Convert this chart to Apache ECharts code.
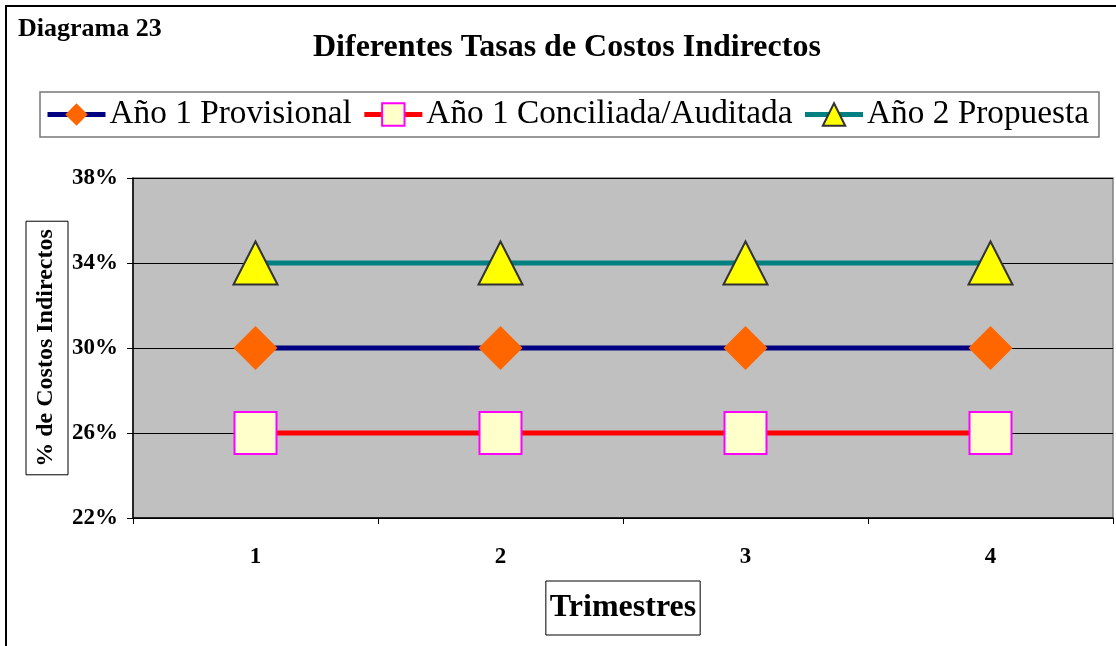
<!DOCTYPE html>
<html><head><meta charset="utf-8">
<script src="https://cdn.jsdelivr.net/npm/echarts@6/dist/echarts.min.js"></script>
<style>html,body{margin:0;padding:0;background:#fff}#c{width:1116px;height:646px}</style>
</head><body><div id="c"></div>
<script>
const categories = ['1', '2', '3', '4'];
const provisional = [30, 30, 30, 30];
const conciliada = [26, 26, 26, 26];
const propuesta = [34, 34, 34, 34];
const seriesNames = ['Año 1 Provisional', 'Año 1 Conciliada/Auditada', 'Año 2 Propuesta'];
const yMin = 22, yMax = 38, yStep = 4;

const serif = '"Liberation Serif", "DejaVu Serif", serif';
const chart = echarts.init(document.getElementById('c'), null, {renderer: 'canvas'});
chart.setOption({
  animation: false,
  backgroundColor: '#ffffff',
  textStyle: {fontFamily: serif, color: '#000'},
  graphic: [
    {type: 'rect', shape: {x: 6, y: 6, width: 1200, height: 700}, style: {fill: 'none', stroke: '#000', lineWidth: 2}, z: 0},
    {type: 'text', left: 18, top: 16, style: {text: 'Diagrama 23', font: 'bold 26px ' + serif, fill: '#000'}}
  ],
  title: {
    text: 'Diferentes Tasas de Costos Indirectos',
    left: 308, top: 27,
    textStyle: {fontFamily: serif, fontWeight: 'bold', fontSize: 32, color: '#000'}
  },
  legend: {
    left: 40, top: 92,
    padding: [6, 10, 6, 5],
    borderColor: '#777', borderWidth: 1.5,
    itemWidth: 58, itemHeight: 28, itemGap: 10,
    lineStyle: {width: 5},
    textStyle: {fontFamily: serif, fontSize: 33.3, color: '#000', padding: [0, 0, 0, -1]},
    data: seriesNames
  },
  grid: {left: 133, top: 178, right: 3, bottom: 128, show: true, backgroundColor: '#C0C0C0', borderColor: '#808080', borderWidth: 1.5},
  xAxis: {
    type: 'category', data: categories, boundaryGap: true,
    name: 'Trimestres', nameLocation: 'middle', nameGap: 63, nameMoveOverlap: false,
    nameTextStyle: {fontFamily: serif, fontWeight: 'bold', fontSize: 32, color: '#000', borderColor: '#000', borderWidth: 1, padding: [11, 4, 11, 4]},
    axisLine: {lineStyle: {color: '#000', width: 1.5}},
    axisTick: {show: true, length: 6, lineStyle: {color: '#000'}},
    axisLabel: {fontFamily: serif, fontWeight: 'bold', fontSize: 23, color: '#000', margin: 28},
    splitLine: {show: false}
  },
  yAxis: {
    type: 'value', min: yMin, max: yMax, interval: yStep,
    name: '% de Costos Indirectos', nameLocation: 'middle', nameRotate: 90, nameGap: 65, nameMoveOverlap: false,
    nameTextStyle: {fontFamily: serif, fontWeight: 'bold', fontSize: 24, color: '#000', borderColor: '#000', borderWidth: 1, padding: [8, 8, 10, 8]},
    axisLine: {show: true, lineStyle: {color: '#000', width: 1.5}},
    axisTick: {show: true, length: 6, lineStyle: {color: '#000'}},
    axisLabel: {formatter: '{value}%', fontFamily: serif, fontWeight: 'bold', fontSize: 23, color: '#000', margin: 15},
    splitLine: {show: true, lineStyle: {color: '#000', width: 1}}
  },
  series: [
    {name: seriesNames[0], type: 'line', data: provisional, symbol: 'diamond', symbolSize: 44,
     lineStyle: {color: '#000080', width: 5}, itemStyle: {color: '#FF6600', borderWidth: 0}, emphasis: {disabled: true}},
    {name: seriesNames[1], type: 'line', data: conciliada, symbol: 'rect', symbolSize: 42,
     lineStyle: {color: '#FF0000', width: 5}, itemStyle: {color: '#FFFFCC', borderColor: '#FF00FF', borderWidth: 2}, emphasis: {disabled: true}},
    {name: seriesNames[2], type: 'line', data: propuesta, symbol: 'triangle', symbolSize: [44, 43],
     lineStyle: {color: '#008080', width: 5}, itemStyle: {color: '#FFFF00', borderColor: '#333', borderWidth: 2}, emphasis: {disabled: true}}
  ]
});
</script></body></html>
